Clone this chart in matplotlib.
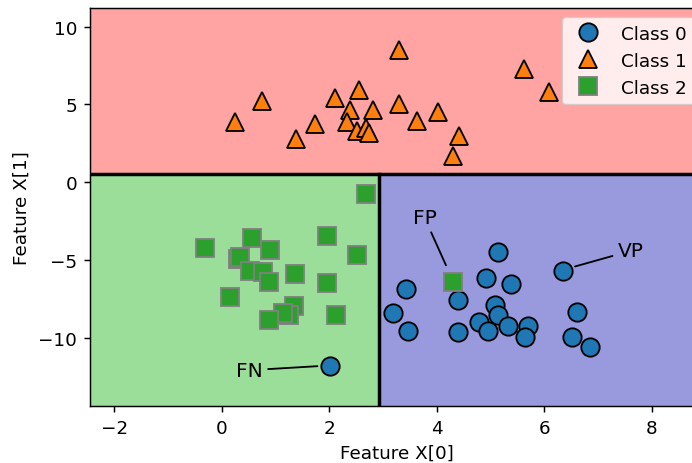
import matplotlib
matplotlib.use("Agg")
import matplotlib.pyplot as plt
import numpy as np

# points
class0_x = [3.43, 3.19, 3.46, 4.39, 4.39, 5.14, 4.91, 5.38, 5.09, 5.14,
            4.78, 4.96, 5.33, 5.69, 5.64, 6.34, 6.60, 6.52, 6.84, 2.01]
class0_y = [-6.84, -8.44, -9.54, -7.59, -9.65, -4.46, -6.19, -6.56, -7.87, -8.55,
            -8.98, -9.54, -9.26, -9.26, -9.97, -5.72, -8.34, -9.97, -10.59, -11.79]

class1_x = [0.25, 0.75, 1.39, 1.73, 2.10, 2.55, 2.38, 2.81, 2.33, 2.52,
            2.69, 2.73, 3.29, 3.29, 3.64, 4.03, 4.42, 4.31, 5.62, 6.09]
class1_y = [3.84, 5.20, 2.75, 3.77, 5.40, 5.92, 4.67, 4.67, 3.88, 3.28,
            3.50, 3.18, 8.53, 5.00, 3.92, 4.50, 2.96, 1.67, 7.25, 5.79]

class2_x = [2.69, -0.32, 0.56, 0.89, 1.96, 2.51, 0.30, 0.34, 0.53, 0.76,
            0.88, 1.37, 1.95, 0.16, 1.34, 1.26, 1.13, 0.87, 2.12, 4.31]
class2_y = [-0.73, -4.26, -3.58, -4.39, -3.47, -4.65, -4.93, -4.82, -5.72, -5.79,
            -6.43, -5.89, -6.47, -7.40, -7.93, -8.55, -8.44, -8.83, -8.51, -6.39]

class_names = ["Class 0", "Class 1", "Class 2"]

# decision boundaries
x_split = 2.93
y_split = 0.5

# annotations: label, text position, end of leader line
ann_labels = ["FN", "FP", "VP"]
ann_text = [(0.51, -12.09), (3.77, -2.27), (7.61, -4.41)]
ann_end = [(1.78, -11.83), (4.17, -5.34), (6.57, -5.42)]

xlim = (-2.45, 8.95)
ylim = (-14.39, 11.2)

s = 1.32  # scale factor
fig = plt.figure(figsize=(6.92, 4.64), dpi=100)
ax = fig.add_axes([90 / 692, 57 / 464, 613 / 692, 398 / 464])

# regions
ax.axhspan(y_split, ylim[1], color="#ffa3a3", zorder=0)
ax.fill_between([xlim[0], x_split], ylim[0], y_split, color="#9bde9a", zorder=0, lw=0)
ax.fill_between([x_split, xlim[1]], ylim[0], y_split, color="#9999dd", zorder=0, lw=0)
ax.axhline(y_split, color="k", lw=2.5, zorder=1)
ax.plot([x_split, x_split], [ylim[0], y_split], color="k", lw=2.5, zorder=1)

ms = 10 * s
mew = 1 * s
ax.plot(class0_x, class0_y, "o", color="#1f77b4", mec="k", ms=ms, mew=mew, label=class_names[0])
ax.plot(class1_x, class1_y, "^", color="#ff7f0e", mec="k", ms=ms, mew=mew, label=class_names[1])
ax.plot(class2_x, class2_y, "s", color="#2ca02c", mec="grey", ms=ms, mew=mew, label=class_names[2])

for lab, t, e in zip(ann_labels, ann_text, ann_end):
    ax.annotate(lab, xy=e, xytext=t, ha="center", va="center", fontsize=11 * s,
                arrowprops=dict(arrowstyle="-", color="k", lw=1 * s, shrinkB=0))

ax.set_xlim(*xlim)
ax.set_ylim(*ylim)
ax.set_xticks([-2, 0, 2, 4, 6, 8])
ax.set_yticks([-10, -5, 0, 5, 10])
ax.tick_params(labelsize=10 * s, length=3.5 * s, width=0.8 * s, pad=3.5 * s)
for sp in ax.spines.values():
    sp.set_linewidth(0.8 * s)
ax.set_xlabel("Feature X[0]", fontsize=10 * s, labelpad=4 * s)
ax.set_ylabel("Feature X[1]", fontsize=10 * s, labelpad=4 * s)
ax.legend(loc="upper right", fontsize=10 * s)

fig.savefig("out.png", dpi=100)
